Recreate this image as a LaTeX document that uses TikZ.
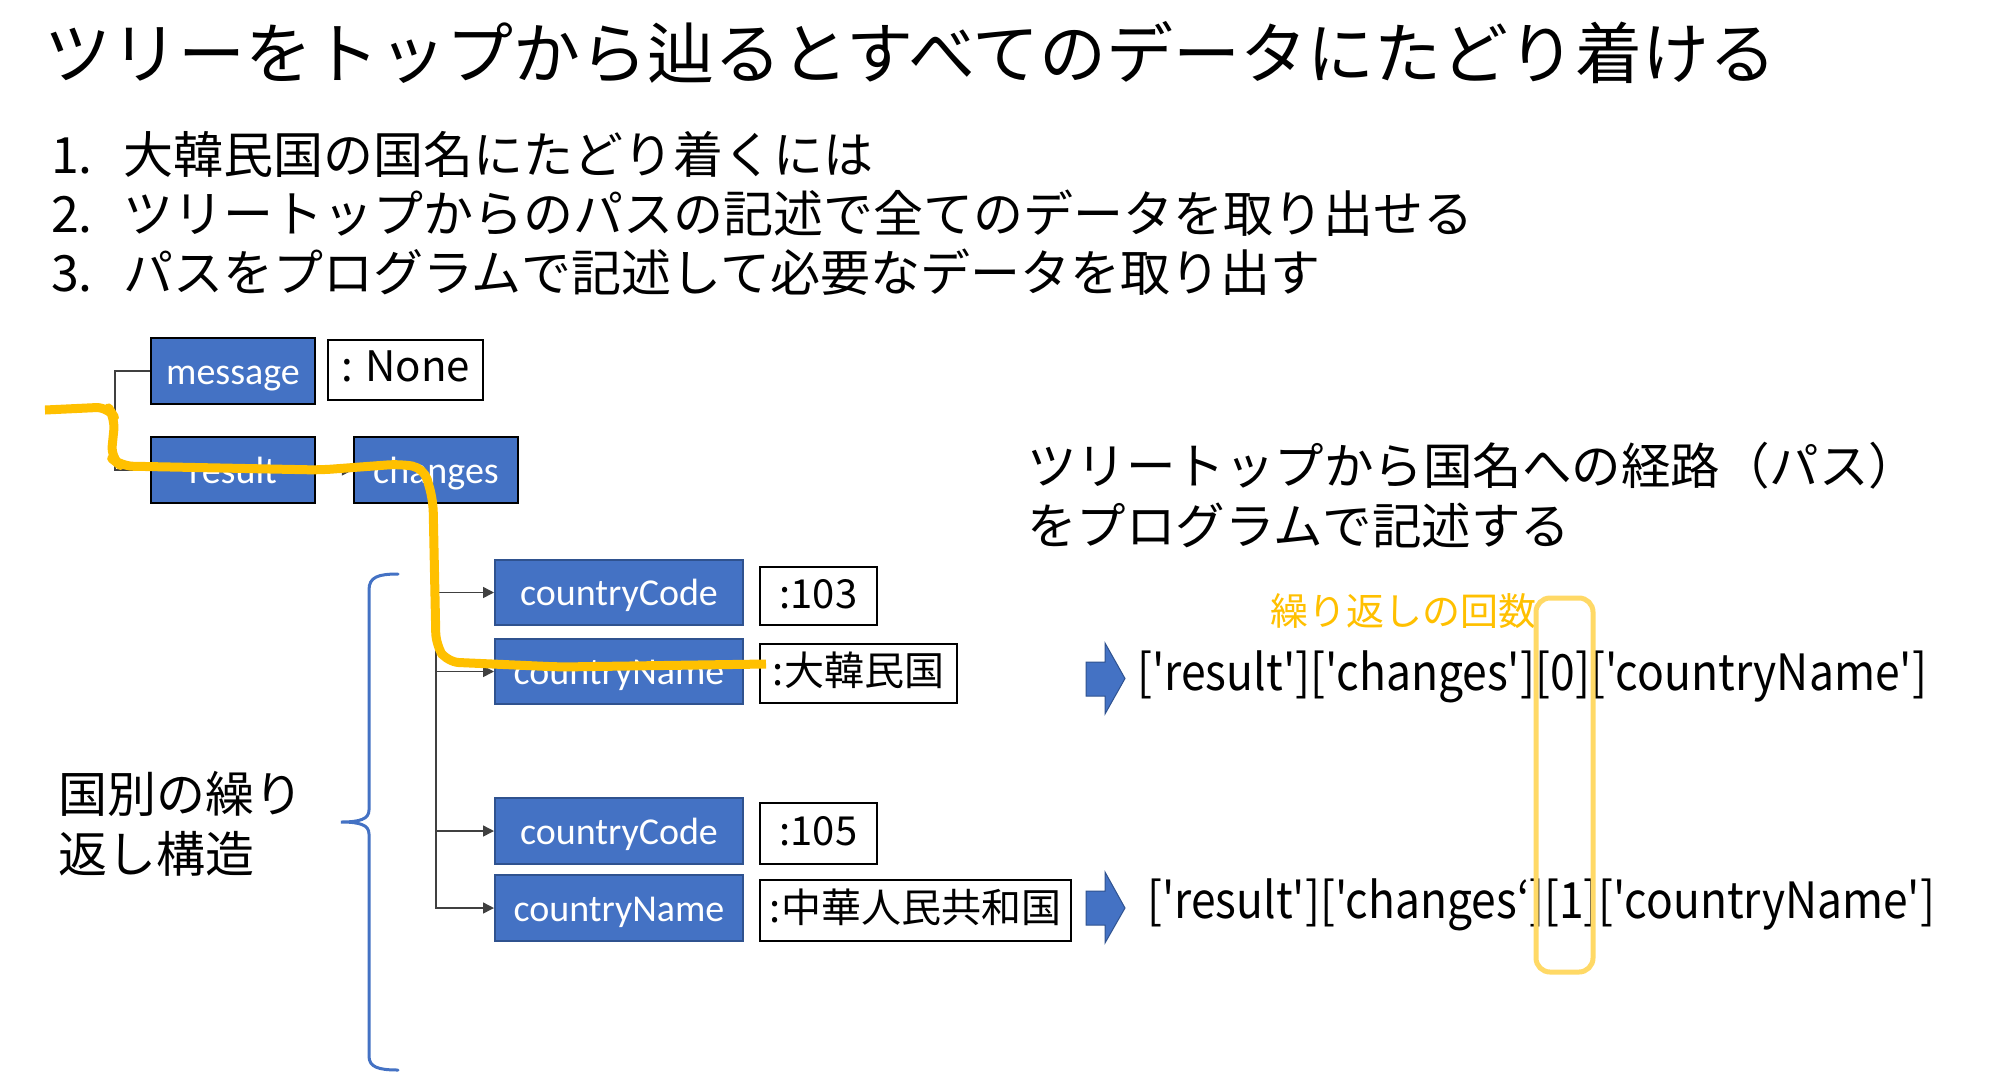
\documentclass[tikz,border=0pt]{standalone}
\usepackage{fontspec}
\usepackage{graphicx}
\setmainfont{Noto Sans CJK JP}
\newfontfamily\boxfont{Carlito}
\newfontfamily\pathfont{Noto Sans CJK JP}[Ligatures=TeXOff]
\usetikzlibrary{arrows.meta}
\definecolor{boxblue}{HTML}{4472C4}
\definecolor{darkblue}{HTML}{2F528F}
\definecolor{hiyellow}{HTML}{FFC000}
\definecolor{lightyellow}{HTML}{FFD966}
\newcommand\fsz[1]{\fontsize{#1}{#1}\selectfont}
\newsavebox\fitbox
\newcommand\fitw[2]{\sbox\fitbox{#2}\scalebox{\fpeval{#1/(\the\wd\fitbox)}}[1]{\usebox\fitbox}}
\begin{document}
\begin{tikzpicture}[x=1pt,y=-1pt,
  keybox/.style={draw=black,line width=2.5pt,fill=boxblue,text=white,
    font=\boxfont\fsz{38},minimum width=164pt,minimum height=66pt,inner sep=0pt,
    text height=29pt,text depth=2.5pt},
  ckbox/.style={draw=darkblue,line width=2pt,fill=boxblue,text=white,
    font=\boxfont\fsz{38},minimum width=248pt,minimum height=65pt,inner sep=0pt,
    text height=29pt,text depth=2.5pt},
  valbox/.style={draw=black,line width=2pt,fill=white,font=\fsz{40},
    minimum height=60pt,inner sep=0pt,text height=34pt,text depth=10pt},
  txt/.style={anchor=west,inner sep=0pt,text=black},
  conn/.style={draw=black!75,line width=1.5pt},
  arr/.style={conn,-{Triangle[length=11pt,width=11pt]}},
  bigarrow/.style={fill=boxblue,draw=darkblue,line width=1pt,line join=miter}]
\useasboundingbox[fill=white] (0,0) rectangle (1992,1072);

% title and list
\node[txt,font=\fsz{67}] (title) at (44,53) {ツリーをトップから辿るとすべてのデータにたどり着ける};
\node[txt,font=\fsz{50}] (l1) at (51,154) {\makebox[72pt][l]{1.}大韓民国の国名にたどり着くには};
\node[txt,font=\fsz{50}] (l2) at (51,213) {\makebox[72pt][l]{2.}ツリートップからのパスの記述で全てのデータを取り出せる};
\node[txt,font=\fsz{50}] (l3) at (51,272) {\makebox[72pt][l]{3.}パスをプログラムで記述して必要なデータを取り出す};

% tree
\node[keybox] (message) at (233,371) {message};
\node[valbox,minimum width=155pt,font=\fsz{42}] (none) at (405.5,369.5) {: None};
\node[keybox] (result) at (233,470) {result};
\node[keybox] (changes) at (436,470) {changes};
\node[ckbox] (cc1) at (619,592.5) {countryCode};
\node[valbox,minimum width=117pt,minimum height=58pt] (v103) at (818.5,596) {:103};
\node[ckbox] (cn1) at (619,671.5) {countryName};
\node[valbox,minimum width=197pt,minimum height=59pt] (vkr) at (858.5,673.5) {:大韓民国};
\node[ckbox,minimum height=66pt] (cc2) at (619,831) {countryCode};
\node[valbox,minimum width=117pt,minimum height=61pt] (v105) at (818.5,833.5) {:105};
\node[ckbox,minimum height=66pt] (cn2) at (619,908) {countryName};
\node[valbox,minimum width=311pt,minimum height=61pt] (vcn) at (915.5,910.5) {:中華人民共和国};

\draw[conn] (message.west) -- ++(-35,0) |- (result.west);
\draw[arr] (result.east) -- (changes.west);
\draw[arr] (changes.south) |- (cc1.west);
\draw[arr] (changes.south) |- (cn1.west);
\draw[arr] (changes.south) |- (cc2.west);
\draw[arr] (changes.south) |- (cn2.west);

% brace and its label
\draw[boxblue,line width=3pt,line cap=round]
  (398,574) .. controls (378,574) and (369,577) .. (369,590) -- (369,810)
  .. controls (369,819) and (360,822) .. (341,822)
  .. controls (360,822) and (369,825) .. (369,834) -- (369,1056)
  .. controls (369,1067) and (378,1070) .. (398,1070);
\node[txt,font=\fsz{49},align=left] (rep) at (58,824) {国別の繰り\\[11pt]返し構造};

% right side text
\node[txt,font=\fsz{49.5},align=left] (expl) at (1027,495) {ツリートップから国名への経路（パス）\\[10.5pt]をプログラムで記述する};
\node[txt,font=\fsz{38},text=hiyellow] (count) at (1270,611) {繰り返しの回数};

% block arrows
\draw[bigarrow] (1086,662) -- (1105,662) -- (1105,643) -- (1125,678.5) -- (1105,714) -- (1105,696) -- (1086,696) -- cycle;
\draw[bigarrow] (1086,891) -- (1105,891) -- (1105,872) -- (1125,908) -- (1105,943) -- (1105,925) -- (1086,925) -- cycle;

\node[txt,font=\pathfont\fsz{50}] (p1) at (1137,677) {\fitw{790}{['result']['changes'][0]['countryName']}};
\node[txt,font=\pathfont\fsz{50}] (p2) at (1147,905) {\fitw{788}{['result']['changes‘][1]['countryName']}};

% highlights
\draw[lightyellow,line width=5pt,rounded corners=14pt] (1536,598) rectangle (1593,972);
\draw[hiyellow,line width=9pt,rounded corners=12pt,line join=round]
  (45,410) -- (108,407) -- (115,418) -- (111,458) -- (121,466) -- (320,470)
  -- (400,464) -- (424,468) -- (433,500) -- (436,645) -- (447,662)
  -- (560,667) -- (766,664);
\end{tikzpicture}
\end{document}
